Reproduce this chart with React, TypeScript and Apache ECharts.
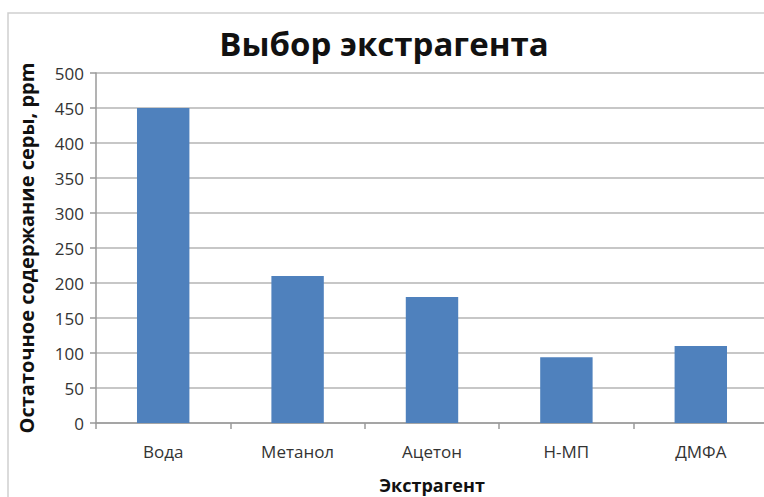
import React, { useEffect, useRef } from "react";
import * as echarts from "echarts";

const title = "Выбор экстрагента";
const categories = ["Вода", "Метанол", "Ацетон", "Н-МП", "ДМФА"];
const values = [450, 210, 180, 94, 110];
const yAxisName = "Остаточное содержание серы, ppm";
const xAxisName = "Экстрагент";

export default function App() {
  const ref = useRef<HTMLDivElement>(null);
  useEffect(() => {
    if (!ref.current) return;
    const chart = echarts.init(ref.current, undefined, { renderer: "svg" });
    const font = "'Open Sans', 'Noto Sans', sans-serif";
    chart.setOption({
      animation: false,
      backgroundColor: "#ffffff",
      title: {
        text: title,
        left: 379,
        textAlign: "center",
        top: 22,
        textStyle: { fontFamily: font, fontSize: 33, fontWeight: "bold", color: "#111111" },
      },
      graphic: [
        {
          type: "rect",
          shape: { x: 8, y: 13, width: 800, height: 520 },
          style: { fill: "none", stroke: "#cfcfcf", lineWidth: 1.5 },
          silent: true,
        },
      ],
      grid: {
        left: 96,
        right: -4,
        top: 73,
        bottom: 74,
        containLabel: false,
        outerBoundsMode: "none",
      },
      xAxis: {
        type: "category",
        data: categories,
        name: xAxisName,
        nameLocation: "middle",
        nameGap: 53,
        nameTextStyle: { fontFamily: font, fontSize: 18, fontWeight: "bold", color: "#111111" },
        axisLine: { lineStyle: { color: "#9a9a9a", width: 1.5 } },
        axisTick: { show: true, length: 6, lineStyle: { color: "#9a9a9a", width: 1.5 } },
        axisLabel: { fontFamily: font, fontSize: 17, color: "#333333", margin: 20 },
      },
      yAxis: {
        type: "value",
        min: 0,
        max: 500,
        interval: 50,
        name: yAxisName,
        nameLocation: "middle",
        nameGap: 60,
        nameTextStyle: { fontFamily: font, fontSize: 20, fontWeight: "bold", color: "#111111" },
        axisLine: { show: true, lineStyle: { color: "#9a9a9a", width: 1.5 } },
        axisTick: { show: true, length: 6, lineStyle: { color: "#9a9a9a", width: 1.5 } },
        axisLabel: { fontFamily: font, fontSize: 17, color: "#333333", margin: 12 },
        splitLine: { lineStyle: { color: "#b5b5b5", width: 1.5 } },
      },
      series: [
        {
          type: "bar",
          data: values,
          barWidth: "39%",
          itemStyle: { color: "#4f81bd" },
        },
      ],
    });
    return () => chart.dispose();
  }, []);
  return (
    <div
      ref={ref}
      style={{ position: "fixed", left: 0, top: 0, width: 764, height: 497 }}
    />
  );
}
